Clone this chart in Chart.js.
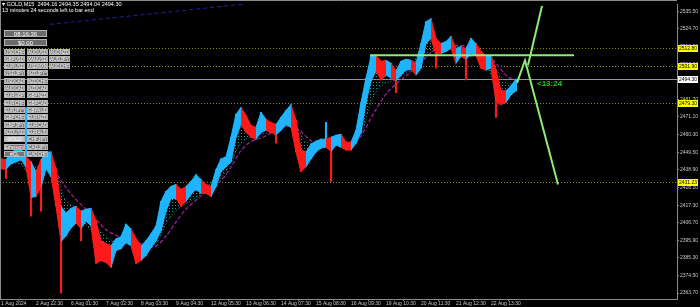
<!DOCTYPE html>
<html><head><meta charset="utf-8">
<script src="https://cdn.jsdelivr.net/npm/chart.js@4/dist/chart.umd.min.js"></script>
<style>html,body{margin:0;padding:0;background:#000;overflow:hidden}canvas{display:block}</style>
</head><body>
<canvas id="c" width="700" height="307"></canvas>
<script>
// ---- DATA ----
const dateLabels = ['1 Aug 2024','2 Aug 22:30','6 Aug 01:30','7 Aug 02:30','8 Aug 03:30','9 Aug 04:30','12 Aug 05:30','13 Aug 06:30','14 Aug 07:30','15 Aug 08:30','16 Aug 09:30','19 Aug 10:30','20 Aug 11:30','21 Aug 12:30','22 Aug 13:30'];
const priceTicks = [2535.50,2524.70,2513.90,2503.10,2492.30,2481.70,2471.10,2460.30,2449.50,2438.90,2428.10,2417.30,2406.70,2395.90,2385.30,2374.50,2363.70];

// full high / low of each group of bars (wick extremes)
const barHigh = [2445.5,2444.9,2449.7,2450.9,2451.5,2476.8,2443.7,2437.7,2444.9,2449.7,
2449.7,2439.5,2416.6,2412.4,2415.4,2416.6,2413.6,2414.8,2415.4,2407.6,
2395.6,2393.8,2392.6,2396.8,2398.0,2405.8,2402.8,2396.8,2392.6,2395.6,
2399.8,2404.6,2419.6,2425.7,2428.7,2429.9,2426.9,2428.7,2431.7,2435.9,
2432.9,2429.9,2428.7,2438.9,2445.5,2446.7,2458.7,2472.6,2476.8,2472.0,
2465.9,2464.7,2473.8,2469.6,2467.7,2466.5,2470.8,2475.0,2478.6,2469.0,
2450.9,2449.7,2454.5,2456.3,2457.5,2467.7,2458.7,2459.9,2460.5,2455.7,
2455.7,2462.9,2479.8,2494.8,2508.0,2508.6,2505.0,2505.6,2503.8,2499.0,
2505.0,2506.2,2505.6,2503.8,2515.8,2529.1,2530.9,2518.9,2515.8,2517.0,
2520.1,2512.8,2514.0,2512.8,2518.9,2515.8,2511.0,2508.0,2508.6,2499.6,
2487.0,2487.0,2490.0,2494.2];
const barLow = [2439.5,2433.5,2442.5,2443.7,2444.9,2440.7,2410.6,2422.6,2413.6,2439.5,
2434.7,2416.6,2363.7,2398.6,2403.4,2406.4,2395.6,2407.6,2404.6,2381.8,
2383.6,2382.4,2379.4,2389.6,2390.8,2394.4,2392.6,2381.8,2383.6,2386.6,
2391.4,2395.6,2401.6,2413.6,2421.4,2421.4,2416.6,2419.6,2423.9,2426.9,
2424.5,2424.5,2422.6,2428.7,2437.7,2440.7,2443.7,2458.7,2466.5,2461.7,
2458.7,2457.5,2461.7,2462.9,2461.7,2455.1,2462.9,2466.5,2464.7,2449.7,
2437.7,2440.7,2445.5,2449.7,2452.1,2452.7,2431.7,2453.9,2452.7,2450.9,
2450.9,2455.1,2461.7,2479.8,2493.0,2499.0,2493.6,2496.6,2494.8,2485.8,
2496.6,2499.6,2500.2,2496.6,2500.8,2515.8,2518.9,2500.8,2509.8,2511.0,
2512.8,2503.8,2508.0,2493.6,2509.8,2508.6,2500.8,2499.6,2500.8,2470.8,
2478.6,2479.8,2484.6,2487.0];
// main body range of each group (without the long spikes)
const bodyHigh = [2445.5,2444.9,2449.7,2450.9,2451.5,2447.0,2443.7,2437.7,2444.9,2449.7,
2449.7,2439.5,2416.6,2412.4,2415.4,2416.6,2413.6,2414.8,2415.4,2407.6,
2395.6,2393.8,2392.6,2396.8,2398.0,2405.8,2402.8,2396.8,2392.6,2395.6,
2399.8,2404.6,2419.6,2425.7,2428.7,2429.9,2426.9,2428.7,2431.7,2435.9,
2432.9,2429.9,2428.7,2438.9,2445.5,2446.7,2458.7,2472.6,2476.8,2472.0,
2465.9,2464.7,2473.8,2469.6,2467.7,2466.5,2470.8,2475.0,2478.6,2469.0,
2450.9,2449.7,2454.5,2456.3,2457.5,2457.5,2458.7,2459.9,2460.5,2455.7,
2455.7,2462.9,2479.8,2494.8,2508.0,2508.6,2505.0,2505.6,2503.8,2499.0,
2505.0,2506.2,2505.6,2503.8,2515.8,2529.1,2530.9,2518.9,2515.8,2517.0,
2520.1,2512.8,2514.0,2512.8,2518.9,2515.8,2511.0,2508.0,2508.6,2499.6,
2487.0,2487.0,2490.0,2494.2];
const bodyLow = [2439.5,2439.0,2442.5,2443.7,2444.9,2440.7,2422.0,2422.6,2428.0,2439.5,
2434.7,2416.6,2395.0,2398.6,2403.4,2406.4,2403.0,2407.6,2404.6,2381.8,
2383.6,2382.4,2379.4,2389.6,2390.8,2394.4,2392.6,2381.8,2383.6,2386.6,
2391.4,2395.6,2401.6,2413.6,2421.4,2421.4,2416.6,2419.6,2423.9,2426.9,
2424.5,2424.5,2422.6,2428.7,2437.7,2440.7,2443.7,2458.7,2466.5,2461.7,
2458.7,2457.5,2461.7,2462.9,2461.7,2460.0,2462.9,2466.5,2464.7,2449.7,
2437.7,2440.7,2445.5,2449.7,2452.1,2452.7,2450.0,2453.9,2452.7,2450.9,
2450.9,2455.1,2461.7,2479.8,2493.0,2499.0,2493.6,2496.6,2494.8,2493.0,
2496.6,2499.6,2500.2,2496.6,2500.8,2515.8,2518.9,2509.0,2509.8,2511.0,
2512.8,2503.8,2508.0,2506.0,2509.8,2508.6,2500.8,2499.6,2500.8,2480.0,
2478.6,2479.8,2484.6,2487.0];
const barDir = [-1,-1,1,1,1,1,-1,1,-1,1,
1,-1,-1,1,1,1,-1,1,1,-1,
-1,-1,-1,1,1,1,1,-1,-1,1,
1,1,1,1,1,1,-1,-1,1,1,
1,-1,-1,1,1,1,1,1,1,-1,
-1,-1,1,1,-1,-1,1,1,1,-1,
-1,-1,1,1,1,1,-1,1,1,-1,
-1,1,1,1,1,1,-1,-1,1,-1,
1,1,1,-1,1,1,1,-1,-1,1,
1,-1,1,-1,1,1,-1,-1,1,-1,
-1,-1,1,1];

const maSlots  = [0,3,6,9,11,13,16,19,22,25,28,31,33,35,38,41,44,46,48,51,54,57,59,61,64,67,70,72,74,76,79,82,85,87,90,93,96,99,101,103];
const fastMA   = [2442,2446,2435,2440,2430,2408,2408,2398,2388,2398,2390,2398,2418,2424,2428,2428,2440,2452,2470,2463,2465,2470,2462,2446,2454,2456,2453,2468,2498,2501,2496,2502,2518,2515,2514,2508,2508,2490,2484,2490];
const ribbonMA = [2440,2443,2440,2442,2437,2420,2414,2405,2396,2396,2392,2394,2406,2414,2420,2426,2434,2443,2455,2460,2462,2466,2465,2456,2454,2455,2454,2460,2480,2490,2494,2500,2508,2513,2515,2512,2510,2500,2492,2491];

const slowSlots  = [8.8,10.8,12.8,14.8,16.8,18.8,20.8,22.8,25.8,28.8,30.8,33.2,35.4,37.2,40.4,43.8,45.8,47.8,49.8,52.4,55.2,57.8,59.8,61.8,63.8,66.4,69.8,71.8,74.4,77.2,79.2,81.2,84.4,87.8,91.2,94.4,96.4,98.4,101.2,103.2];
const slowMA     = [2443.7,2437.7,2428.7,2421.4,2415.4,2409.4,2402.8,2399.2,2395.6,2393.2,2392.0,2399.2,2408.8,2415.4,2423.9,2431.7,2439.5,2449.7,2455.7,2458.7,2462.9,2465.9,2462.9,2456.9,2454.5,2455.7,2454.5,2458.7,2472.6,2485.8,2491.8,2496.6,2505.6,2514.0,2514.6,2514.0,2509.8,2505.6,2496.0,2493.0];

const levelPrices = [2512.80,2501.90,2479.30,2431.23];
const bidPrice = 2494.30;
const hLineSlots = [73.8,114.6],  hLinePrices = [2508.6,2508.6];
const projSlots  = [103.2,104.8,111.4], projPrices = [2491.8,2505.6,2429.9];
const proj2Slots = [105.4,108.2], proj2Prices = [2502.6,2538.7];
const trendSlots = [9.8,48.8], trendPrices = [2527.5,2539.9];

const headerLine1 = '\u25BE GOLD,M15  2494.16 2494.35 2494.04 2494.30';
const headerLine2 = '13 minutes 24 seconds left to bar end';
const clockText = '08:16:36', moneyText = '$0.00', countdown = '<13:24';
const btnCol1 = ['USDCHF','GBPUSD','EURUSD','USDJPY','USDCAD','AUDCAD','EURGBP','EURCHF','EURJPY*','GBPCHF','GBPJPY','NZDUSD','GOLD','Ethereum','#CL'];
const btnCol2 = ['AUDUSD','XAUUSD','USDMXN','NZDJPY*','NZDCHF','NZDCAD','GBPNZD','GBPCAD','GBPAUD','EURNZD','EURCAD','EURAUD','CHFJPY','CADJPY','CADCHF'];
const btnCol3 = ['AUDNZD','AUDJPY','AUDCHF'];

// ---- helpers ----
const UP='#1eb4ff', DN='#ff1a1a';
const pts = (xs, ys) => xs.map((x,i)=>({x, y: ys[i]}));
const FONT = '"Liberation Sans",Arial,sans-serif';
const pc = document.createElement('canvas'); pc.width=3; pc.height=3;
const pctx = pc.getContext('2d'); pctx.fillStyle='#1c9a9a'; pctx.fillRect(1,1,1,1);
const ribbonPattern = document.getElementById('c').getContext('2d').createPattern(pc,'repeat');
const segCol = c => barDir[c.p1DataIndex] > 0 ? UP : DN;

const overlay = {
  id:'overlay',
  beforeDraw(chart){ const c=chart.ctx; c.save(); c.fillStyle='#000'; c.fillRect(0,0,chart.width,chart.height); c.restore(); },
  beforeDatasetsDraw(chart){
    const {ctx, chartArea:a, scales:{y}} = chart;
    ctx.save(); ctx.lineWidth=1;
    ctx.setLineDash([1,2]); ctx.strokeStyle='#8c8c00';
    levelPrices.forEach(p=>{ const py=Math.round(y.getPixelForValue(p))+0.5; ctx.beginPath(); ctx.moveTo(a.left,py); ctx.lineTo(a.right,py); ctx.stroke(); });
    ctx.setLineDash([]); ctx.strokeStyle='#8f95a8';
    const by=Math.round(y.getPixelForValue(bidPrice))+0.5; ctx.beginPath(); ctx.moveTo(a.left,by); ctx.lineTo(a.right,by); ctx.stroke();
    ctx.restore();
  },
  afterDraw(chart){
    const {ctx, chartArea:a, scales:{x,y}} = chart;
    ctx.save();
    ctx.strokeStyle='#8a8a8a'; ctx.lineWidth=1;
    ctx.beginPath(); ctx.moveTo(0,0.5); ctx.lineTo(a.right,0.5); ctx.moveTo(0.5,0); ctx.lineTo(0.5,a.bottom); ctx.stroke();
    ctx.fillStyle='#ffffff'; ctx.font='5.5px '+FONT; ctx.textAlign='left'; ctx.textBaseline='middle';
    ctx.fillText(headerLine1,2,4); ctx.fillText(headerLine2,2,10);
    const btn=(bx,by,w,h,t,fill,tc,fs)=>{ ctx.fillStyle=fill; ctx.fillRect(bx,by,w,h); ctx.strokeStyle='#b4b4b4'; ctx.strokeRect(bx+0.5,by+0.5,w-1,h-1);
      ctx.fillStyle=tc; ctx.font=fs+'px '+FONT; ctx.textAlign='center'; ctx.textBaseline='middle'; ctx.fillText(t,bx+w/2,by+h/2+0.4, w-2); };
    btn(4,30,43,7,clockText,'#6a6a6a','#ffffff',6);
    btn(4,39,43,7,moneyText,'#6a6a6a','#ffffff',6);
    const colX=[4,27,49];
    [btnCol1,btnCol2,btnCol3].forEach((col,ci)=>col.forEach((t,ri)=>{
      const gold = t==='GOLD';
      btn(colX[ci], Math.round(48.5+7.33*ri), 21, 6, t, gold?'#c4c4c4':'#787878', '#ffffff', 5);
    }));
    const box=(p,fill)=>{ const py=Math.round(y.getPixelForValue(p)); ctx.fillStyle=fill; ctx.fillRect(678,py-3,20,7);
      ctx.fillStyle='#000'; ctx.font='5px '+FONT; ctx.textAlign='left'; ctx.textBaseline='middle'; ctx.fillText(p.toFixed(2),679,py+0.5); };
    levelPrices.forEach(p=>box(p,'#ffff00'));
    box(bidPrice,'#ffffff');
    ctx.fillStyle='#1fcc1f'; ctx.font='bold 8px '+FONT; ctx.textAlign='left'; ctx.textBaseline='middle';
    ctx.fillText(countdown, x.getPixelForValue(107.2), y.getPixelForValue(bidPrice)+4.5);
    ctx.restore();
  }
};

new Chart(document.getElementById('c'), {
  type:'line',
  data:{ datasets:[
    { order:6, data: pts(maSlots, fastMA), borderColor:'#2a9e9e', borderWidth:1, borderDash:[1,2], pointRadius:0, tension:0.35, fill:false },
    { order:5, data: pts(maSlots, ribbonMA), borderColor:'#1f8a8a', borderWidth:1, borderDash:[1,2], pointRadius:0, tension:0.35, fill:{target:0}, backgroundColor: ribbonPattern },
    { order:3, data: bodyHigh.map((h,i)=>({x:i, y:h})), borderWidth:1, borderColor:UP, pointRadius:0, tension:0, fill:false,
      segment:{ borderColor: segCol } },
    { order:3, data: bodyLow.map((l,i)=>({x:i, y:l})), borderWidth:1, borderColor:UP, backgroundColor:UP, pointRadius:0, tension:0, fill:{target:2},
      segment:{ borderColor: segCol, backgroundColor: segCol } },
    { type:'bar', order:3, data: barHigh.map((h,i)=>({x:i, y:[barLow[i],h]})),
      backgroundColor: barDir.map(d=>d>0?UP:DN), barThickness:1.5, grouped:false, borderWidth:0 },
    { order:4, data: pts(slowSlots, slowMA), borderColor:'#a020a0', borderWidth:1.2, borderDash:[4,2], pointRadius:0, tension:0.3, fill:false },
    { order:1, data: pts(hLineSlots, hLinePrices), borderColor:'#8cec78', borderWidth:2, pointRadius:0, fill:false },
    { order:1, data: pts(projSlots, projPrices), borderColor:'#8cec78', borderWidth:2, pointRadius:0, fill:false },
    { order:1, data: pts(proj2Slots, proj2Prices), borderColor:'#8cec78', borderWidth:2, pointRadius:0, fill:false },
    { order:2, data: pts(trendSlots, trendPrices), borderColor:'#2020a8', borderWidth:1, borderDash:[4,3], pointRadius:0, fill:false }
  ]},
  options:{
    responsive:false, animation:false, devicePixelRatio:1,
    layout:{padding:0},
    plugins:{legend:{display:false}, tooltip:{enabled:false}},
    scales:{
      x:{ type:'linear', position:'bottom', min:-0.2, max:135.2, offset:false,
        afterBuildTicks: s=>{ s.ticks = dateLabels.map((_,i)=>({value:i*7})); },
        afterFit: s=>{ s.height = 8; },
        grid:{ drawOnChartArea:false, tickLength:2, color:'#8a8a8a' },
        border:{ display:true, color:'#8a8a8a' },
        ticks:{ autoSkip:false, maxRotation:0, align:'start', padding:0, color:'#c8c8c8', font:{size:5, family:FONT},
          callback:(v,i)=>dateLabels[i] }
      },
      y:{ type:'linear', position:'right', min:2360.1, max:2539.9,
        afterBuildTicks: s=>{ s.ticks = priceTicks.map(v=>({value:v})); },
        afterFit: s=>{ s.width = 23; },
        grid:{ drawOnChartArea:false, tickLength:2, color:'#8a8a8a' },
        border:{ display:true, color:'#8a8a8a' },
        ticks:{ padding:1, color:'#c8c8c8', font:{size:5, family:FONT}, callback:v=>v.toFixed(2) }
      }
    }
  },
  plugins:[overlay]
});
</script>
</body></html>
